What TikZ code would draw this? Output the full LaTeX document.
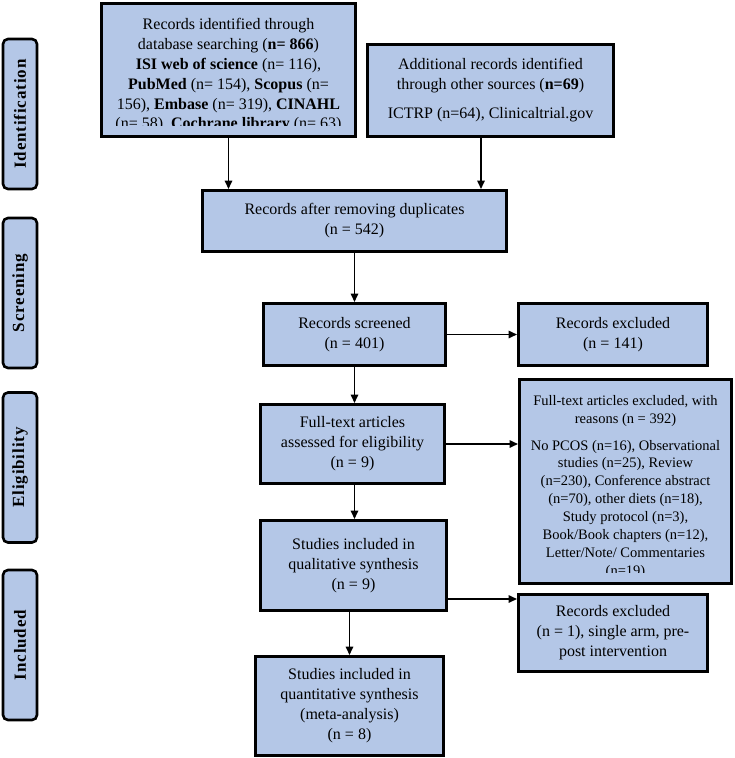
\documentclass[tikz,border=0pt]{standalone}
\usepackage{fontspec}
\setmainfont{Liberation Serif}
\usetikzlibrary{arrows.meta}
\definecolor{boxblue}{HTML}{B4C7E7}
\tikzset{
    stagebox/.style={draw=black,line width=2.6pt,fill=boxblue,rounded corners=5pt,
        minimum width=150pt,minimum height=34pt,inner sep=0pt,rotate=90,
        font=\fontsize{17}{17}\selectfont\bfseries\addfontfeature{LetterSpace=5}},
    flowbox/.style={draw=black,line width=3pt,fill=boxblue,inner sep=0pt,align=center,
        font=\fontsize{16}{20}\selectfont},
    cliptext/.style={anchor=north,inner sep=0pt,align=center},
    arrow/.style={line width=1.6pt,-{Triangle[length=8.5pt,width=7.5pt]}}
}
\begin{document}
\begin{tikzpicture}[x=1pt,y=-1pt]
            \useasboundingbox (0,0) rectangle (734,758);
            \foreach \n/\y/\t in {ident/114/Identification,screen/293/Screening,elig/467.5/Eligibility,incl/645/Included}
            {
                \node (\n) at (20,\y) [stagebox] {\t};
            }
            \node (db) at (228.5,70) [flowbox,minimum width=254pt,minimum height=133pt] {};
            \begin{scope}
                \clip (db.north west) rectangle ([yshift=12.5pt]db.south east);
                \node (dbtext) at (228.5,18.5) [cliptext,font=\fontsize{16}{19.8}\selectfont]
                    {Records identified through\\ database searching (\textbf{n= 866})\\
                     \textbf{ISI web of science} (n= 116),\\
                     \textbf{PubMed} (n= 154), \textbf{Scopus} (n=\\
                     156), \textbf{Embase} (n= 319), \textbf{CINAHL}\\
                     (n= 58), \textbf{Cochrane library} (n= 63)};
            \end{scope}
            \node (other) at (490.5,90.5) [flowbox,minimum width=246pt,minimum height=92pt]
                {Additional records identified\\ through other sources (\textbf{n=69})\\[9pt] ICTRP (n=64), Clinicaltrial.gov};
            \node (dup) at (354.5,221) [flowbox,minimum width=304pt,minimum height=61pt]
                {Records after removing duplicates\\ (n = 542)};
            \node (scr) at (354.5,334.5) [flowbox,minimum width=182pt,minimum height=62pt]
                {Records screened\\ (n = 401)};
            \node (exca) at (613,334.5) [flowbox,minimum width=189pt,minimum height=62pt]
                {Records excluded\\ (n = 141)};
            \node (full) at (352.5,444) [flowbox,minimum width=184pt,minimum height=79pt]
                {Full-text articles\\ assessed for eligibility\\ (n = 9)};
            \node (excb) at (625.5,481.5) [flowbox,minimum width=212pt,minimum height=204pt] {};
            \begin{scope}
                \clip (excb.north west) rectangle ([yshift=13pt]excb.south east);
                \node (excbtext) at (625.5,395) [cliptext,font=\fontsize{14.5}{17.9}\selectfont]
                    {Full-text articles excluded, with\\ reasons (n = 392)\\[9pt]
                     No PCOS (n=16), Observational\\ studies (n=25), Review\\
                     (n=230), Conference abstract\\ (n=70), other diets (n=18),\\
                     Study protocol (n=3),\\ Book/Book chapters (n=12),\\
                     Letter/Note/ Commentaries\\ (n=19)};
            \end{scope}
            \node (qual) at (353.5,565.5) [flowbox,minimum width=186pt,minimum height=90pt]
                {Studies included in\\ qualitative synthesis\\ (n = 9)};
            \node (excc) at (613,633) [flowbox,minimum width=189pt,minimum height=77pt]
                {Records excluded\\ (n = 1), single arm, pre-\\ post intervention};
            \node (quant) at (349.5,706) [flowbox,minimum width=188pt,minimum height=99pt]
                {Studies included in\\ quantitative synthesis\\ (meta-analysis)\\ (n = 8)};
            \draw[arrow] (db.south) -- (db.south |- dup.north);
            \draw[arrow] ([xshift=-9.5pt]other.south) -- ([xshift=-9.5pt]other.south |- dup.north);
            \draw[arrow] (dup) -- (scr);
            \draw[arrow] (scr) -- (exca);
            \draw[arrow] (scr.south) -- (scr.south |- full.north);
            \draw[arrow] (full.east) -- (full.east -| excb.west);
            \draw[arrow] (full.south -| scr.south) -- (scr.south |- qual.north);
            \draw[arrow] ([yshift=-33.5pt]qual.east) -- ([yshift=-33.5pt]qual.east -| excc.west);
            \draw[arrow] (quant.north |- qual.south) -- (quant.north);
\end{tikzpicture}
\end{document}
